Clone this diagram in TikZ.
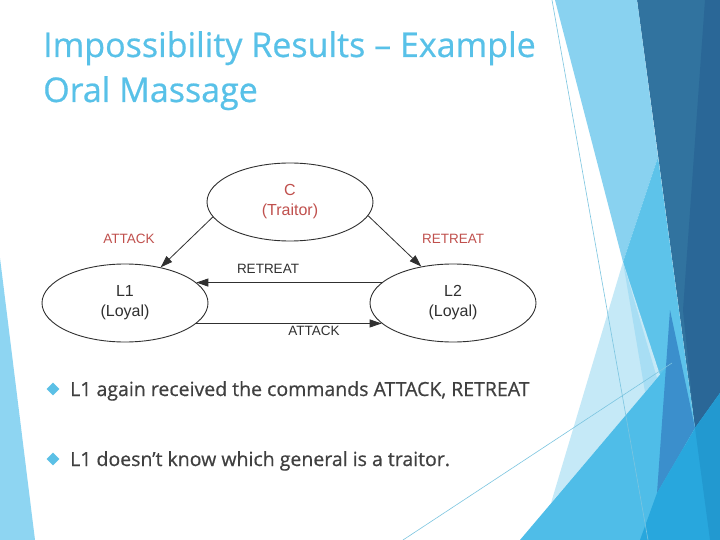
\documentclass[tikz,border=0pt]{standalone}
\usepackage{fontspec}
\setmainfont{Liberation Sans}
\newfontfamily\themefont[FakeBold=0.6]{Open Sans}
\usetikzlibrary{arrows.meta,shapes.geometric}
\definecolor{titleblue}{HTML}{58C1E8}
\definecolor{bodygray}{HTML}{404040}
\definecolor{bulletblue}{HTML}{5BC0E6}
\definecolor{diagline}{HTML}{303030}
\definecolor{diagred}{HTML}{C0504D}
\definecolor{stripblue}{HTML}{8ED5F2}
\definecolor{lightband}{HTML}{89D2F0}
\definecolor{medband}{HTML}{5DC3EA}
\definecolor{paleband}{HTML}{C5E9F7}
\definecolor{lighterband}{HTML}{A8DEF4}
\definecolor{bigmed}{HTML}{4FBDE8}
\definecolor{darkone}{HTML}{31739F}
\definecolor{darktwo}{HTML}{2A6797}
\definecolor{middark}{HTML}{3B8FCC}
\definecolor{botright}{HTML}{28A7DD}
\definecolor{botright2}{HTML}{2299D0}
\definecolor{thinline}{HTML}{7CC5E0}
\tikzset{
  gen/.style={ellipse, draw=diagline, line width=0.9pt, minimum width=166pt,
    minimum height=78pt, inner sep=0pt, align=center,
    font=\fontsize{16}{20}\selectfont},
  msg/.style={-{Triangle[length=12pt,width=8pt]}, draw=diagline, line width=0.8pt},
  lbl/.style={font=\fontsize{13.5}{16}\selectfont, inner sep=0pt},
  bulletmark/.style={diamond, fill=bulletblue, inner sep=0pt, minimum size=13pt},
  bodytext/.style={anchor=base west, text=bodygray, inner sep=0pt,
    font=\themefont\fontsize{19.5}{24}\selectfont},
  titletext/.style={anchor=base west, text=titleblue, inner sep=0pt,
    font=\themefont\fontsize{34}{38}\selectfont},
}
\begin{document}
\begin{tikzpicture}[x=1pt,y=-1pt]
\useasboundingbox (0,0) rectangle (720,540);
\fill[white] (0,0) rectangle (720,540);
% left strip
\fill[stripblue] (0,258) -- (35,540) -- (0,540) -- cycle;
% right decoration
\fill[darkone] (637,0) -- (720,0) -- (720,393) -- (695,428) -- cycle;
\fill[darktwo] (705,0) -- (720,0) -- (720,393) -- (695,428) -- (683,310) -- cycle;
\fill[lightband] (555,0) -- (637,0) -- (658,157) -- (623,262) -- cycle;
\fill[medband] (658,157) -- (695,428) -- (657,493) -- (640,540) -- (600,540) -- (655,380) -- (623,262) -- cycle;
\fill[paleband] (623,262) -- (660,375) -- (551,503) -- cycle;
\fill[lighterband] (623,262) -- (657,378) -- (645,392) -- cycle;
\fill[bigmed] (670,363) -- (700,540) -- (520,540) -- cycle;
\fill[middark] (670,310) -- (695,428) -- (657,493) -- cycle;
\fill[botright] (695,428) -- (720,393) -- (720,540) -- (640,540) -- (657,493) -- cycle;
\fill[botright2] (695,428) -- (720,393) -- (720,540) -- (710,540) -- cycle;
\draw[thinline, line width=0.6pt] (552,0) -- (648,540);
\draw[thinline, line width=0.6pt] (403,540) -- (672,363);
% title
\node[titletext] (t1) at (43,57) {Impossibility Results – Example};
\node[titletext] (t2) at (43,102) {Oral Massage};
% diagram
\node[gen, text=diagred] (C) at (290,202) {C\\(Traitor)};
\node[gen, text=diagline] (L1) at (125,303) {L1\\(Loyal)};
\node[gen, text=diagline] (L2) at (453,303) {L2\\(Loyal)};
\draw[msg] (C.191) -- (L1.45);
\draw[msg] (C.-10) -- (L2.131);
\draw[msg] (L2.164) -- (L1.16);
\draw[msg] (L1.-16) -- (L2.196);
\node[lbl, text=diagred] (la) at (129,239) {ATTACK};
\node[lbl, text=diagred] (lr) at (453,239) {RETREAT};
\node[lbl, text=diagline] (mr) at (268,269) {RETREAT};
\node[lbl, text=diagline] (ma) at (314,331) {ATTACK};
% bullets
\node[bulletmark] (b1) at (53,389) {};
\node[bulletmark] (b2) at (53,459) {};
\node[bodytext] (s1) at (70,396) {L1 again received the commands ATTACK, RETREAT};
\node[bodytext] (s2) at (70,466) {L1 doesn’t know which general is a traitor.};
\end{tikzpicture}
\end{document}
